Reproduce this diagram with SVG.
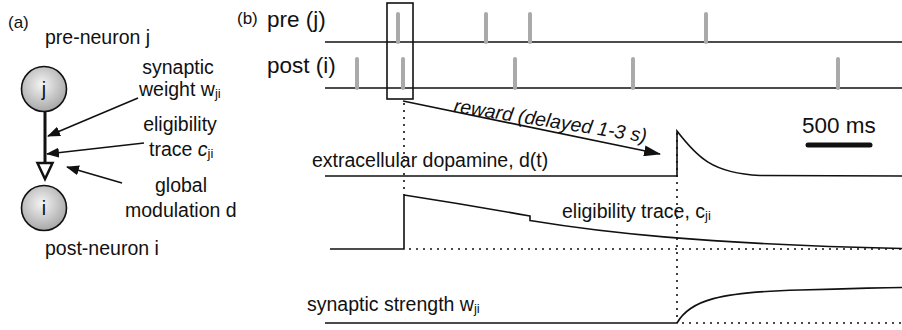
<svg xmlns="http://www.w3.org/2000/svg" width="902" height="330" viewBox="0 0 902 330">
  <style>
    text { font-family: "Liberation Sans", Arial, Helvetica, sans-serif; fill: #111; }
    .lbl { font-size: 19.5px; }
    .big { font-size: 22.5px; }
    .tag { font-size: 17px; }
    .sub { font-size: 13px; }
    .mid { text-anchor: middle; }
    .axis { stroke: #111; stroke-width: 1.6; fill: none; }
    .trace { stroke: #111; stroke-width: 1.6; fill: none; }
    .dot { stroke: #111; stroke-width: 1.6; stroke-dasharray: 2 5; fill: none; }
    .spike { stroke: #aaa; stroke-width: 4; stroke-linecap: round; }
    .neuron { fill: url(#ball); stroke: #111; stroke-width: 1.6; }
    .pointer { stroke: #111; stroke-width: 1.6; fill: none; }
  </style>
  <defs>
    <radialGradient id="ball" cx="0.45" cy="0.4" r="0.6">
      <stop offset="0" stop-color="#f4f4f4"/>
      <stop offset="1" stop-color="#a8a8a8"/>
    </radialGradient>
    <marker id="head" viewBox="0 0 13 10" refX="12" refY="5" markerWidth="13" markerHeight="10" markerUnits="userSpaceOnUse" orient="auto">
      <path d="M0,0 L13,5 L0,10 z" fill="#111"/>
    </marker>
    <marker id="headBig" viewBox="0 0 17 11" refX="16" refY="5.5" markerWidth="17" markerHeight="11" markerUnits="userSpaceOnUse" orient="auto">
      <path d="M0,0 L17,5.5 L0,11 z" fill="#111"/>
    </marker>
  </defs>

  <!-- panel (a): two-neuron synapse -->
  <text class="tag" x="8" y="28">(a)</text>
  <text class="lbl" x="45" y="44">pre-neuron j</text>
  <text class="lbl" x="45" y="255">post-neuron i</text>

  <g id="connectors">
    <!-- axon from j to i with open synapse head -->
    <line x1="45" y1="111" x2="45" y2="163" stroke="#111" stroke-width="3"/>
    <polygon points="37.5,163 52.5,163 45,179" fill="#fff" stroke="#111" stroke-width="2.5" stroke-linejoin="miter"/>
    <line class="pointer" x1="138" y1="98" x2="48" y2="136" marker-end="url(#head)"/>
    <line class="pointer" x1="144" y1="143" x2="47" y2="154" marker-end="url(#head)"/>
    <line class="pointer" x1="122" y1="183" x2="67" y2="167" marker-end="url(#head)"/>
  </g>

  <g id="node-j">
    <circle class="neuron" cx="44" cy="89" r="22.5"/>
    <text class="lbl mid" x="44" y="96">j</text>
  </g>
  <g id="node-i">
    <circle class="neuron" cx="44" cy="208" r="22.5"/>
    <text class="lbl mid" x="44" y="215">i</text>
  </g>

  <g id="label-weight">
    <text class="lbl mid" x="178" y="74">synaptic</text>
    <text class="lbl" x="139" y="96">weight w<tspan class="sub" dy="2">ji</tspan></text>
  </g>
  <g id="label-trace">
    <text class="lbl mid" x="180" y="131">eligibility</text>
    <text class="lbl" x="149" y="156">trace <tspan font-style="italic">c</tspan><tspan class="sub" dy="2">ji</tspan></text>
  </g>
  <g id="label-modulation">
    <text class="lbl mid" x="181" y="192">global</text>
    <text class="lbl" x="125" y="217">modulation d</text>
  </g>

  <!-- panel (b): spike trains and traces -->
  <g id="spike-trains">
    <text class="tag" x="237" y="24">(b)</text>
    <text class="big" x="267" y="27">pre (j)</text>
    <text class="big" x="267" y="73">post (i)</text>
    <line class="axis" x1="325" y1="42" x2="902" y2="42"/>
    <line class="axis" x1="325" y1="88" x2="902" y2="88"/>
    <line class="spike" x1="398" y1="14" x2="398" y2="42"/>
    <line class="spike" x1="486" y1="14" x2="486" y2="42"/>
    <line class="spike" x1="530" y1="14" x2="530" y2="42"/>
    <line class="spike" x1="706" y1="14" x2="706" y2="42"/>
    <line class="spike" x1="357" y1="59" x2="357" y2="88"/>
    <line class="spike" x1="403" y1="59" x2="403" y2="88"/>
    <line class="spike" x1="515" y1="59" x2="515" y2="88"/>
    <line class="spike" x1="633" y1="59" x2="633" y2="88"/>
    <line class="spike" x1="838" y1="59" x2="838" y2="88"/>
    <rect x="387" y="3" width="26" height="96" fill="none" stroke="#111" stroke-width="1.6"/>
  </g>

  <g id="reward">
    <line class="pointer" x1="403" y1="101" x2="660" y2="154" marker-end="url(#headBig)"/>
    <text class="lbl" font-style="italic" transform="translate(453 112) rotate(9)">reward (delayed 1-3 s)</text>
  </g>

  <g id="scale-bar">
    <text class="big" x="802" y="133">500 ms</text>
    <line x1="808" y1="145" x2="870" y2="145" stroke="#111" stroke-width="5" stroke-linecap="round"/>
  </g>

  <g id="dopamine">
    <text class="lbl" x="312" y="167">extracellular dopamine, d(t)</text>
    <path class="trace" d="M325,176 L677,176 L677,131 C697,157 712,173 760,175.5 L902,176"/>
  </g>

  <g id="eligibility">
    <text class="lbl" x="562" y="218">eligibility trace, c<tspan class="sub" dy="2">ji</tspan></text>
    <path class="trace" d="M330,249 L404,249 L404,195 C446,201.5 488,208.5 530,216 L530,220.5 C600,232 700,244 902,248.5"/>
    <line class="dot" x1="409" y1="249" x2="902" y2="249"/>
  </g>

  <g id="strength">
    <text class="lbl" x="307" y="311">synaptic strength w<tspan class="sub" dy="2">ji</tspan></text>
    <path class="trace" d="M325,323 L677,323 C690,300 720,292 800,290 S880,287.5 902,287.5"/>
    <line class="dot" x1="682" y1="323" x2="902" y2="323"/>
  </g>

  <g id="time-markers">
    <line class="dot" x1="404" y1="103" x2="404" y2="195"/>
    <line class="dot" x1="677" y1="133" x2="677" y2="323"/>
  </g>
</svg>
